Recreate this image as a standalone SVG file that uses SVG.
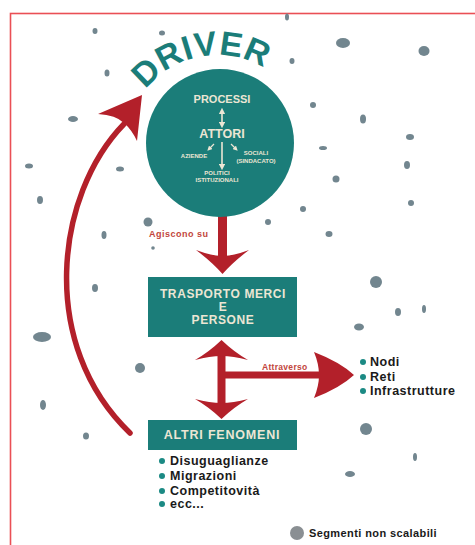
<svg xmlns="http://www.w3.org/2000/svg" width="475" height="545" viewBox="0 0 475 545">
<style>
.dot{fill:#72868f}
.teal{fill:#1b7d79}
.red{fill:#b3202a}
.lt{fill:#ece6d4;font-family:"Liberation Sans",Arial,sans-serif;font-weight:bold;text-anchor:middle}
.lbl{fill:#c2453c;font-family:"Liberation Sans",Arial,sans-serif;font-weight:bold;font-size:9px}
.blt{fill:#1a1a1a;font-family:"Liberation Sans",Arial,sans-serif;font-weight:bold;font-size:12.5px;letter-spacing:0.5px}
.bd{fill:#1b8a84}
</style>
<defs>
<path id="arcDriver" d="M138.2,100.5 A91,91 0 0 1 295.8,100.5"/>
<marker id="sm" viewBox="0 0 6 6" refX="3" refY="3" markerWidth="4" markerHeight="4" orient="auto-start-reverse"><path d="M0,0 L6,3 L0,6 Z" fill="#ece6d4"/></marker>
</defs>
<rect x="0" y="0" width="475" height="545" fill="#ffffff"/>
<rect x="10.5" y="13.5" width="520" height="600" fill="none" stroke="#ea4f55" stroke-width="1.6"/>
<g id="dots">
<ellipse class="dot" cx="287" cy="17" rx="2" ry="3.5"/>
<ellipse class="dot" cx="95" cy="31" rx="2.5" ry="3"/>
<ellipse class="dot" cx="162" cy="33" rx="3" ry="2.5"/>
<ellipse class="dot" cx="292" cy="61" rx="2.5" ry="3"/>
<ellipse class="dot" cx="107" cy="73" rx="2.5" ry="3.5"/>
<ellipse class="dot" cx="73" cy="119" rx="5" ry="3"/>
<ellipse class="dot" cx="29" cy="166" rx="4" ry="2.5"/>
<ellipse class="dot" cx="120" cy="169" rx="4" ry="2.5"/>
<ellipse class="dot" cx="40" cy="200" rx="3" ry="4"/>
<ellipse class="dot" cx="104" cy="235" rx="2.5" ry="4"/>
<ellipse class="dot" cx="148" cy="222" rx="4.5" ry="4.5"/>
<ellipse class="dot" cx="153" cy="248" rx="1.8" ry="1.8"/>
<ellipse class="dot" cx="268" cy="222" rx="3" ry="3"/>
<ellipse class="dot" cx="95" cy="288" rx="3" ry="4"/>
<ellipse class="dot" cx="42" cy="337" rx="9" ry="5"/>
<ellipse class="dot" cx="140" cy="368" rx="5" ry="5"/>
<ellipse class="dot" cx="43" cy="405" rx="3" ry="5"/>
<ellipse class="dot" cx="86" cy="436" rx="3" ry="3.5"/>
<ellipse class="dot" cx="343" cy="43" rx="7" ry="5"/>
<ellipse class="dot" cx="424" cy="51" rx="5.5" ry="5"/>
<ellipse class="dot" cx="313" cy="105" rx="3" ry="3"/>
<ellipse class="dot" cx="363" cy="119" rx="3" ry="4.5"/>
<ellipse class="dot" cx="323" cy="148" rx="4" ry="2"/>
<ellipse class="dot" cx="410" cy="137" rx="4" ry="3"/>
<ellipse class="dot" cx="407" cy="165" rx="3" ry="4"/>
<ellipse class="dot" cx="336" cy="179" rx="3.5" ry="3.5"/>
<ellipse class="dot" cx="411" cy="203" rx="3" ry="3"/>
<ellipse class="dot" cx="303" cy="209" rx="3" ry="3"/>
<ellipse class="dot" cx="329" cy="234" rx="3.5" ry="3"/>
<ellipse class="dot" cx="376" cy="282" rx="6" ry="6"/>
<ellipse class="dot" cx="398" cy="312" rx="3" ry="4"/>
<ellipse class="dot" cx="424" cy="309" rx="2" ry="4"/>
<ellipse class="dot" cx="359" cy="327" rx="5" ry="3.5"/>
<ellipse class="dot" cx="366" cy="429" rx="6" ry="6"/>
<ellipse class="dot" cx="415" cy="457" rx="2" ry="4"/>
<ellipse class="dot" cx="350" cy="474" rx="5" ry="3"/>
</g>
<g id="connectors">
<path d="M130,433 C38,345 55,195 124,124" fill="none" stroke="#b3202a" stroke-width="5.5" stroke-linecap="round"/>
<path class="red" d="M142,95 L98,114 Q116,115 124,123 Q132,130 137,141 Z"/>
<rect class="red" x="218" y="213" width="9" height="43"/>
<path class="red" d="M196,250 Q212,256 222.5,256 Q233,256 249,250 Q233,262 222.5,274 Q212,262 196,250 Z"/>
<text class="lbl" x="149" y="237" style="letter-spacing:0.5px">Agiscono su</text>
<rect class="red" x="217.5" y="354" width="8" height="50"/>
<path class="red" d="M221.5,340 Q209,352 195,360 Q210,356 221.5,356 Q233,356 248,360 Q234,352 221.5,340 Z"/>
<path class="red" d="M221.5,419 Q209,407 195,399 Q210,403 221.5,403 Q233,403 248,399 Q234,407 221.5,419 Z"/>
<rect class="red" x="221" y="371.5" width="98" height="7"/>
<path class="red" d="M354,375 Q340,362 314,352 Q319,364 319,375 Q319,386 314,398 Q340,388 354,375 Z"/>
<text class="lbl" x="262" y="370" style="font-size:8.5px;letter-spacing:0.3px">Attraverso</text>
</g>
<g id="driver">
<circle class="teal" cx="220" cy="143" r="74"/>
<text font-family="'Liberation Sans',Arial,sans-serif" font-weight="bold" font-size="34" fill="#1b7d79" text-anchor="middle" letter-spacing="0.5"><textPath href="#arcDriver" startOffset="79">DRIVER</textPath></text>
<text class="lt" x="222" y="103" font-size="11">PROCESSI</text>
<line x1="222" y1="111" x2="222" y2="125" stroke="#ece6d4" stroke-width="1.6" marker-start="url(#sm)" marker-end="url(#sm)"/>
<text class="lt" x="222" y="138" font-size="12.5">ATTORI</text>
<line x1="222" y1="142" x2="222" y2="167" stroke="#ece6d4" stroke-width="1.6" marker-end="url(#sm)"/>
<line x1="214" y1="144" x2="209" y2="149" stroke="#ece6d4" stroke-width="1.2" marker-end="url(#sm)"/>
<line x1="231" y1="144" x2="236" y2="149" stroke="#ece6d4" stroke-width="1.2" marker-end="url(#sm)"/>
<text class="lt" x="194" y="158" font-size="6">AZIENDE</text>
<text class="lt" x="256" y="155" font-size="6">SOCIALI</text>
<text class="lt" x="256" y="163" font-size="6">(SINDACATO)</text>
<text class="lt" x="217" y="175" font-size="6">POLITICI</text>
<text class="lt" x="217" y="182" font-size="6">ISTITUZIONALI</text>
</g>
<g id="trasporto">
<rect class="teal" x="148" y="277" width="149" height="60"/>
<text class="lt" font-size="12" letter-spacing="0.6"><tspan x="223" y="298">TRASPORTO MERCI</tspan><tspan x="223" y="311">E</tspan><tspan x="223" y="324">PERSONE</tspan></text>
</g>
<g id="altri">
<rect class="teal" x="148" y="420" width="149" height="30"/>
<text class="lt" x="222" y="439" font-size="12.5" letter-spacing="0.8">ALTRI FENOMENI</text>
<circle class="bd" cx="162" cy="461" r="3"/>
<circle class="bd" cx="162" cy="476" r="3"/>
<circle class="bd" cx="162" cy="491" r="3"/>
<circle class="bd" cx="162" cy="504" r="3"/>
<text class="blt" x="170" y="465">Disuguaglianze</text>
<text class="blt" x="170" y="480">Migrazioni</text>
<text class="blt" x="170" y="495">Competitovità</text>
<text class="blt" x="170" y="508">ecc...</text>
</g>
<g id="reti">
<circle class="bd" cx="363" cy="362" r="3"/>
<circle class="bd" cx="363" cy="377" r="3"/>
<circle class="bd" cx="363" cy="391" r="3"/>
<text class="blt" x="370" y="366">Nodi</text>
<text class="blt" x="370" y="381">Reti</text>
<text class="blt" x="370" y="395">Infrastrutture</text>
</g>
<g id="legend">
<circle cx="297" cy="533" r="7" fill="#8a8f93"/>
<text class="blt" x="309" y="537" style="font-size:11px;letter-spacing:0.4px">Segmenti non scalabili</text>
</g>
</svg>
